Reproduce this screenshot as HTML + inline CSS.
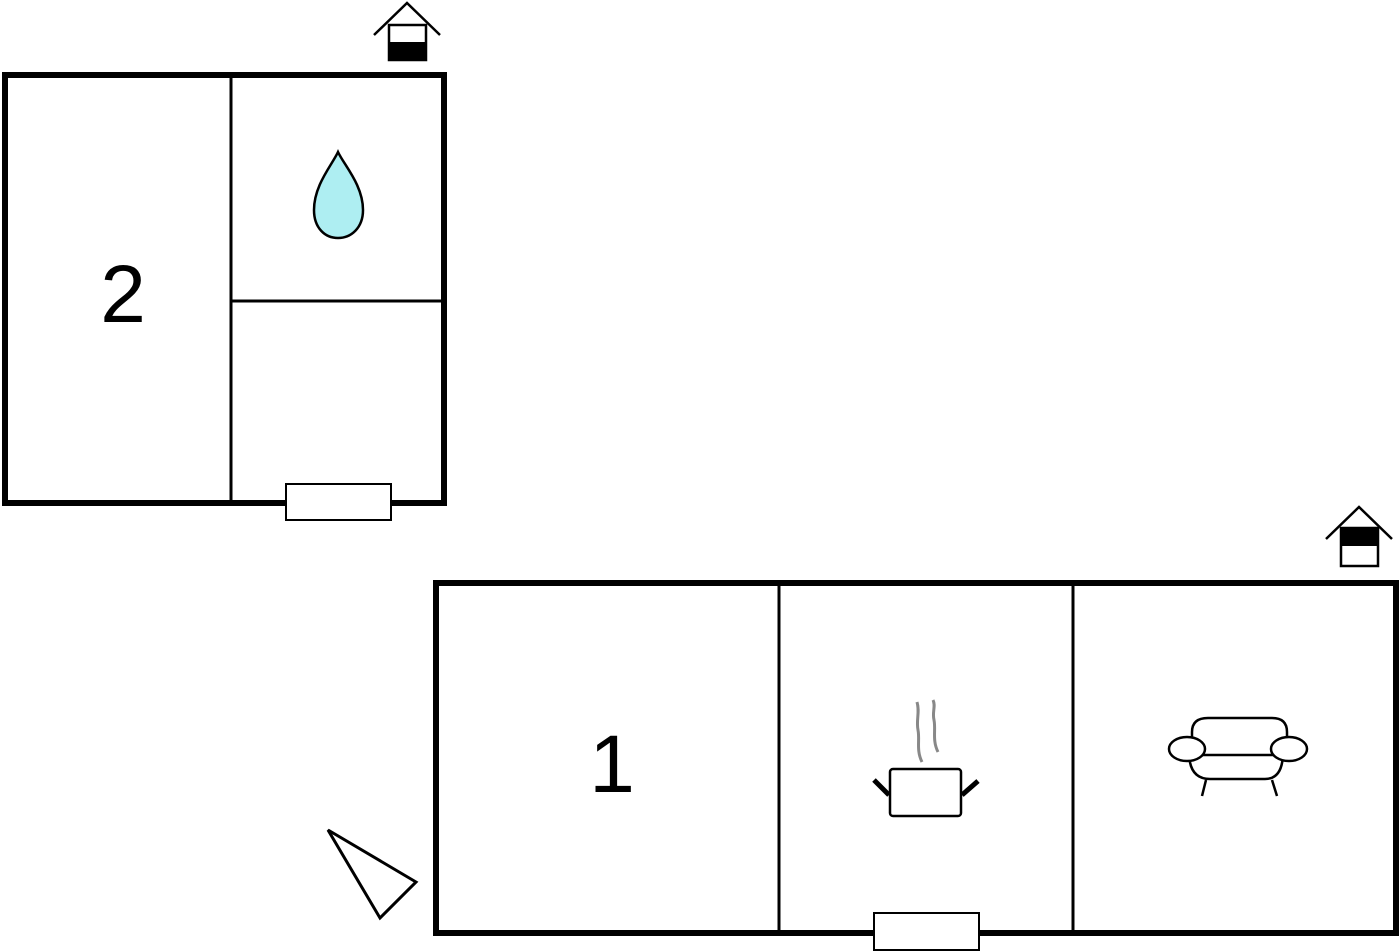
<!DOCTYPE html>
<html><head><meta charset="utf-8"><style>html,body{margin:0;padding:0;background:#fff}svg{display:block}</style></head>
<body>
<svg width="1400" height="952" viewBox="0 0 1400 952" xmlns="http://www.w3.org/2000/svg">
<g fill="none" stroke="#000">
<!-- building 2 -->
<rect x="5" y="75" width="439" height="428" stroke-width="6"/>
<line x1="231" y1="75" x2="231" y2="503" stroke-width="3"/>
<line x1="231" y1="301" x2="444" y2="301" stroke-width="3"/>
<rect x="286" y="484" width="105" height="36" fill="#fff" stroke-width="2"/>
<path d="M338 152 C332 165 314 185 314 210 C314 228 325 238 338 238 C351 238 363 228 363 210 C363 185 344 165 338 152 Z" fill="#aeeef2" stroke-width="2.5"/>
<!-- house icon 1 -->
<polyline points="374,35 407,3 440,35" stroke-width="2.5"/>
<rect x="389" y="25" width="37" height="35" fill="#fff" stroke-width="2.5"/>
<rect x="389" y="42" width="37" height="18" fill="#000" stroke="none"/>
<!-- building 1 -->
<rect x="436" y="583" width="960" height="350" stroke-width="6"/>
<line x1="779" y1="583" x2="779" y2="933" stroke-width="3"/>
<line x1="1073" y1="583" x2="1073" y2="933" stroke-width="3"/>
<rect x="874" y="913" width="105" height="37" fill="#fff" stroke-width="2"/>
<!-- house icon 2 -->
<polyline points="1326,539 1359,507 1392,539" stroke-width="2.5"/>
<rect x="1341" y="528" width="37" height="38" fill="#fff" stroke-width="2.5"/>
<rect x="1341" y="528" width="37" height="18" fill="#000" stroke="none"/>
<!-- pot -->
<path d="M922 762 C916 750 920 740 918 730 C916 720 920 712 917 702" stroke="#888" stroke-width="3"/>
<path d="M938 752 C932 740 936 730 934 720 C932 712 936 706 933 700" stroke="#888" stroke-width="3"/>
<rect x="890" y="769" width="71" height="47" rx="3" fill="#fff" stroke-width="2.5"/>
<line x1="874" y1="780" x2="889" y2="795" stroke-width="5"/>
<line x1="962" y1="795" x2="978" y2="781" stroke-width="5"/>
<!-- sofa -->
<path d="M1192 755 L1192 732 Q1192 718 1208 718 L1272 718 Q1287 718 1287 732 L1287 755" stroke-width="2.5"/>
<path d="M1189 752 Q1189 779 1210 779 L1265 779 Q1283 779 1283 752" stroke-width="2.5"/>
<line x1="1196" y1="755" x2="1284" y2="755" stroke-width="2.5"/>
<ellipse cx="1187" cy="749" rx="18" ry="12" fill="#fff" stroke-width="2.5"/>
<ellipse cx="1289" cy="749" rx="18" ry="12" fill="#fff" stroke-width="2.5"/>
<line x1="1206" y1="780" x2="1202" y2="796" stroke-width="2.5"/>
<line x1="1272" y1="780" x2="1277" y2="796" stroke-width="2.5"/>
<!-- triangle -->
<polygon points="328,830 416,882 380,918" stroke-width="3"/>
</g>
<text x="123" y="322" font-family="Liberation Sans, sans-serif" font-size="82" text-anchor="middle">2</text>
<text x="612" y="792" font-family="Liberation Sans, sans-serif" font-size="82" text-anchor="middle">1</text>
</svg>
</body></html>
